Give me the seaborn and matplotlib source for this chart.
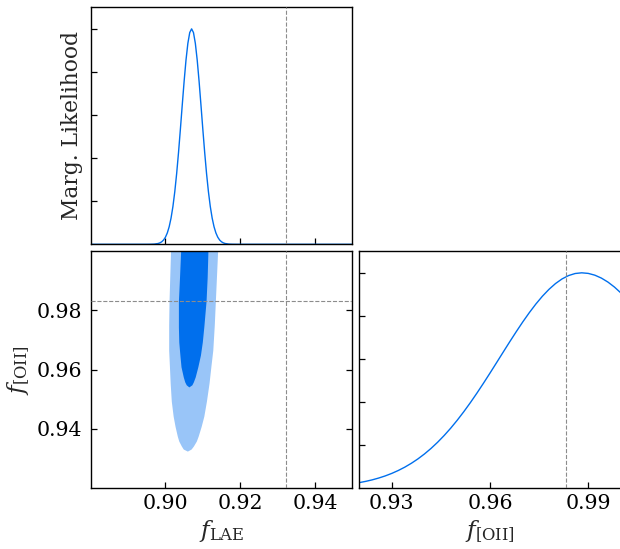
import numpy as np
import pandas as pd
import matplotlib
matplotlib.use("Agg")
import matplotlib.pyplot as plt
import seaborn as sns

# ---------------- data ----------------
# 1D marginal of f_LAE (normalised to peak = 1)
lae_x = [0.8800, 0.8950, 0.8960, 0.8970, 0.8980, 0.8985, 0.8990, 0.8995, 0.9000,
         0.9005, 0.9010, 0.9015, 0.9020, 0.9025, 0.9030, 0.9035, 0.9040, 0.9045,
         0.9050, 0.9055, 0.9060, 0.9065, 0.9070, 0.9075, 0.9080, 0.9085, 0.9090,
         0.9095, 0.9100, 0.9105, 0.9110, 0.9115, 0.9120, 0.9125, 0.9130, 0.9135,
         0.9140, 0.9145, 0.9150, 0.9155, 0.9160, 0.9170, 0.9180, 0.9190, 0.9500]
lae_like = [0.0, 0.0, 0.0002, 0.0009, 0.0036, 0.0065, 0.0116, 0.0199, 0.0330,
            0.0528, 0.0816, 0.1217, 0.1754, 0.2443, 0.3283, 0.4262, 0.5345, 0.6472,
            0.7569, 0.8550, 0.9328, 0.9827, 1.0000, 0.9827, 0.9328, 0.8550, 0.7569,
            0.6472, 0.5345, 0.4262, 0.3283, 0.2443, 0.1754, 0.1217, 0.0816, 0.0528,
            0.0330, 0.0199, 0.0116, 0.0065, 0.0036, 0.0009, 0.0002, 0.0, 0.0]

# 1D marginal of f_[OII]
oii_x = [0.920, 0.922, 0.924, 0.926, 0.928, 0.930, 0.932, 0.934, 0.936, 0.938,
         0.940, 0.942, 0.944, 0.946, 0.948, 0.950, 0.952, 0.954, 0.956, 0.958,
         0.960, 0.962, 0.964, 0.966, 0.968, 0.970, 0.972, 0.974, 0.976, 0.978,
         0.980, 0.982, 0.984, 0.986, 0.988, 0.990, 0.992, 0.994, 0.996, 0.998, 1.000]
oii_like = [0.0247, 0.0307, 0.0377, 0.0462, 0.0561, 0.0678, 0.0814, 0.0970, 0.1150, 0.1353,
            0.1583, 0.1840, 0.2125, 0.2439, 0.2780, 0.3150, 0.3546, 0.3966, 0.4408, 0.4868,
            0.5341, 0.5823, 0.6308, 0.6790, 0.7261, 0.7717, 0.8148, 0.8549, 0.8912, 0.9231,
            0.9501, 0.9716, 0.9873, 0.9968, 1.0000, 0.9973, 0.9891, 0.9756, 0.9571, 0.9338, 0.9060]

# 2D credible regions (boundary points: f_LAE, f_[OII]), traced left side top->bottom, right side bottom->top
outer_lae = [0.9015, 0.9011, 0.9010, 0.9010, 0.9012, 0.9014, 0.9017, 0.9022, 0.9027,
             0.9033, 0.9037, 0.9044, 0.9049, 0.9060, 0.9070, 0.9076, 0.9084, 0.9089,
             0.9097, 0.9104, 0.9111, 0.9118, 0.9123, 0.9128, 0.9132, 0.9135, 0.9141]
outer_oii = [1.0000, 0.9833, 0.9749, 0.9664, 0.9610, 0.9553, 0.9492, 0.9441, 0.9407,
             0.9374, 0.9357, 0.9340, 0.9330, 0.9323, 0.9330, 0.9340, 0.9357, 0.9374,
             0.9407, 0.9441, 0.9492, 0.9553, 0.9610, 0.9664, 0.9749, 0.9833, 1.0000]
inner_lae = [0.9042, 0.9039, 0.9036, 0.9036, 0.9037, 0.9040, 0.9043, 0.9049, 0.9053,
             0.9057, 0.9064, 0.9072, 0.9076, 0.9081, 0.9088, 0.9095, 0.9100, 0.9104,
             0.9110, 0.9113, 0.9115]
inner_oii = [1.0000, 0.9911, 0.9830, 0.9743, 0.9692, 0.9648, 0.9608, 0.9574, 0.9557,
             0.9547, 0.9540, 0.9547, 0.9557, 0.9574, 0.9608, 0.9648, 0.9692, 0.9743,
             0.9830, 0.9911, 1.0000]

# true values (dashed lines)
truth_lae = 0.9323
truth_oii = 0.9832

lae_ticks = [0.90, 0.92, 0.94]
oii_ticks_y = [0.94, 0.96, 0.98]
oii_ticks_x = [0.93, 0.96, 0.99]
like_ticks = [0.2, 0.4, 0.6, 0.8, 1.0]

# ---------------- styling ----------------
sns.set_theme(style="ticks")
plt.rcParams["font.family"] = ["DejaVu Serif", "DejaVu Sans"]
plt.rcParams["mathtext.fontset"] = "dejavuserif"
plt.rcParams["axes.edgecolor"] = "black"
plt.rcParams["axes.linewidth"] = 1.0

FS = 14.8
dark = "#006FED"
light = "#99C5F8"
dash_col = "#8c8c8c"

fig = plt.figure(figsize=(6.2, 5.49), dpi=100)
W, H = 620.0, 549.0

def add_ax(l, t, r, b):
    return fig.add_axes([l / W, 1 - b / H, (r - l) / W, (b - t) / H])

ax_top = add_ax(90.7, 7.3, 352.3, 244.3)
ax_2d = add_ax(90.7, 251.3, 352.3, 488.0)
ax_r = add_ax(359.0, 251.3, 621.0, 488.0)

def style(ax):
    ax.tick_params(direction="in", length=4.0, width=0.9, color="black",
                   labelsize=FS, labelcolor="black", bottom=True, left=True,
                   top=False, right=False)
    for s in ax.spines.values():
        s.set_color("black")
        s.set_linewidth(1.0)
        s.set_visible(True)

# top panel
df_lae = pd.DataFrame({"f": lae_x, "L": lae_like})
sns.lineplot(data=df_lae, x="f", y="L", ax=ax_top, color=dark, lw=1.0,
             estimator=None, sort=False)
ax_top.axvline(truth_lae, color=dash_col, ls="--", lw=0.8, zorder=5)
ax_top.set_xlim(0.88, 0.95)
ax_top.set_ylim(0, 1.1)
ax_top.set_xticks(lae_ticks)
ax_top.set_yticks(like_ticks)
ax_top.set_xticklabels([])
ax_top.set_yticklabels([])
ax_top.set_xlabel("")
style(ax_top)
ax_top.set_ylabel("Marg. Likelihood", fontsize=15.7, labelpad=2)

# 2D panel
ax_2d.fill(outer_lae, outer_oii, color=light, lw=0, zorder=1)
ax_2d.fill(inner_lae, inner_oii, color=dark, lw=0, zorder=2)
ax_2d.axvline(truth_lae, color=dash_col, ls="--", lw=0.8, zorder=5)
ax_2d.axhline(truth_oii, color=dash_col, ls="--", lw=0.8, zorder=5)
ax_2d.set_xlim(0.88, 0.95)
ax_2d.set_ylim(0.92, 1.0)
ax_2d.set_xticks(lae_ticks)
ax_2d.set_yticks(oii_ticks_y)
ax_2d.set_xticklabels([f"{v:.2f}" for v in lae_ticks])
ax_2d.set_yticklabels([f"{v:.2f}" for v in oii_ticks_y])
style(ax_2d)
ax_2d.tick_params(axis="y", right=True, pad=6)
ax_2d.tick_params(axis="x", pad=4)
ax_2d.set_xlabel(r"$f_{\rm LAE}$", fontsize=FS + 2, labelpad=4)
ax_2d.set_ylabel(r"$f_{\rm [OII]}$", fontsize=FS + 2, labelpad=4)

# right panel
df_oii = pd.DataFrame({"f": oii_x, "L": oii_like})
sns.lineplot(data=df_oii, x="f", y="L", ax=ax_r, color=dark, lw=1.0,
             estimator=None, sort=False)
ax_r.axvline(truth_oii, color=dash_col, ls="--", lw=0.8, zorder=5)
ax_r.set_xlim(0.92, 1.0)
ax_r.set_ylim(0, 1.1)
ax_r.set_xticks(oii_ticks_x)
ax_r.set_yticks(like_ticks)
ax_r.set_xticklabels([f"{v:.2f}" for v in oii_ticks_x])
ax_r.set_yticklabels([])
ax_r.set_ylabel("")
style(ax_r)
ax_r.tick_params(axis="x", pad=4)
ax_r.set_xlabel(r"$f_{\rm [OII]}$", fontsize=FS + 2, labelpad=4)

fig.savefig("out.png", dpi=100)
